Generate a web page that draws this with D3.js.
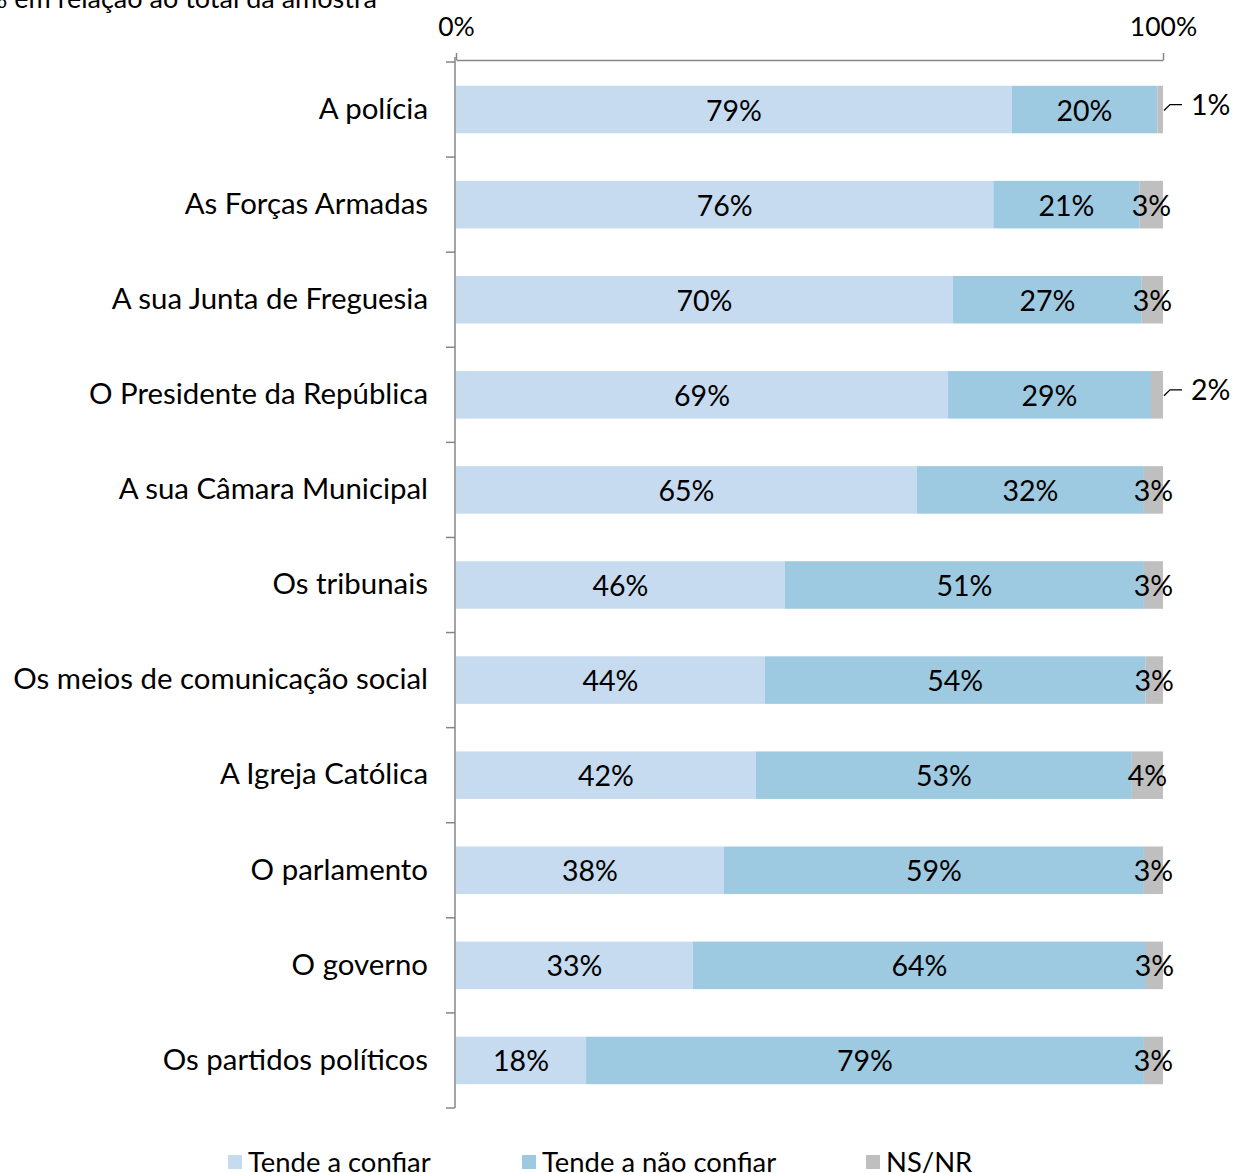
<!DOCTYPE html>
<html>
<head>
<meta charset="utf-8">
<script src="https://cdn.jsdelivr.net/npm/d3@7"></script>
<style>
  body { margin: 0; background: #fff; }
  svg { font-family: Lato, "Open Sans", sans-serif; }
</style>
</head>
<body>
<svg id="chart" width="1233" height="1173"></svg>
<script>
// categories (top to bottom)
const categories = [
  "A polícia", "As Forças Armadas", "A sua Junta de Freguesia",
  "O Presidente da República", "A sua Câmara Municipal", "Os tribunais",
  "Os meios de comunicação social", "A Igreja Católica", "O parlamento",
  "O governo", "Os partidos políticos"
];
// series values (% of sample)
const confiar    = [78.6, 76.0, 70.3, 69.6, 65.2, 46.5, 43.7, 42.4, 37.9, 33.5, 18.4];
const naoConfiar = [20.6, 20.7, 26.7, 28.7, 32.1, 50.8, 53.8, 53.2, 59.4, 64.1, 78.9];
const nsnr       = [0.8, 3.3, 3.0, 1.7, 2.7, 2.7, 2.5, 4.4, 2.7, 2.4, 2.7];
// printed labels
const confiarLab    = ["79%", "76%", "70%", "69%", "65%", "46%", "44%", "42%", "38%", "33%", "18%"];
const naoConfiarLab = ["20%", "21%", "27%", "29%", "32%", "51%", "54%", "53%", "59%", "64%", "79%"];
const nsnrLab       = ["1%", "3%", "3%", "2%", "3%", "3%", "3%", "4%", "3%", "3%", "3%"];
const seriesNames = ["Tende a confiar", "Tende a não confiar", "NS/NR"];
const colors = ["#c6dbef", "#9ecae1", "#bfbfbf"];
const xTicks = [0, 100];

const svg = d3.select("#chart");
const margin = { left: 456, right: 70, top: 62, bottom: 65 };

const x = d3.scaleLinear().domain([0, 100]).range([margin.left, 1163]);
const y = d3.scaleBand().domain(categories).range([margin.top, 1108]).paddingInner(0.5).paddingOuter(0.25);

// rows for stacking
const rows = categories.map((c, i) => ({
  cat: c, s0: confiar[i], s1: naoConfiar[i], s2: nsnr[i],
  l0: confiarLab[i], l1: naoConfiarLab[i], l2: nsnrLab[i]
}));
const stack = d3.stack().keys(["s0", "s1", "s2"]);
const layers = stack(rows);

// title (cut off at the left like the source)
svg.append("text")
  .attr("x", 377).attr("y", 8)
  .attr("text-anchor", "end")
  .attr("font-size", 27).attr("fill", "#000")
  .text("% em relação ao total da amostra");

// bars
const g = svg.append("g");
layers.forEach((layer, k) => {
  g.selectAll(null).data(layer).enter().append("rect")
    .attr("x", d => x(d[0]))
    .attr("width", d => x(d[1]) - x(d[0]))
    .attr("y", d => y(d.data.cat))
    .attr("height", y.bandwidth())
    .attr("fill", colors[k]);
});

// value labels
const lblKeys = ["l0", "l1", "l2"];
layers.forEach((layer, k) => {
  layer.forEach(d => {
    const small = k === 2 && d.data.s2 < 2;
    const cy = y(d.data.cat) + y.bandwidth() / 2;
    if (small) {
      const x0 = x(d[1]) + 1;
      g.append("path")
        .attr("d", `M${x0},${cy + 1} L${x0 + 6},${cy - 5} L${x0 + 18},${cy - 5}`)
        .attr("fill", "none").attr("stroke", "#000").attr("stroke-width", 1.3);
      g.append("text")
        .attr("x", x0 + 27).attr("y", cy - 5)
        .attr("dy", "0.35em")
        .attr("font-size", 28.5)
        .text(d.data[lblKeys[k]]);
    } else {
      g.append("text")
        .attr("x", (x(d[0]) + x(d[1])) / 2)
        .attr("y", cy + 1).attr("dy", "0.35em")
        .attr("text-anchor", "middle")
        .attr("font-size", 28.5)
        .text(d.data[lblKeys[k]]);
    }
  });
});

// top axis
const topAxis = svg.append("g")
  .attr("transform", `translate(0,${margin.top - 2})`)
  .call(d3.axisTop(x).tickValues(xTicks).tickFormat(d => d + "%").tickSize(7).tickSizeOuter(0));
topAxis.select(".domain").attr("stroke", "#868686").attr("stroke-width", 1.5);
topAxis.selectAll(".tick line").attr("stroke", "#868686").attr("stroke-width", 1.5);
topAxis.selectAll(".tick text").attr("font-size", 26.5).attr("font-family", "Lato, sans-serif")
  .attr("fill", "#000").attr("dy", "-0.25em").attr("y", -17);

// left axis with ticks between categories
const step = (1108 - margin.top) / categories.length;
const leftAxis = svg.append("g");
leftAxis.append("line")
  .attr("x1", margin.left - 1).attr("x2", margin.left - 1)
  .attr("y1", margin.top - 5).attr("y2", 1108)
  .attr("stroke", "#868686").attr("stroke-width", 1.5);
leftAxis.selectAll(null).data(d3.range(categories.length + 1)).enter().append("line")
  .attr("x1", margin.left - 10).attr("x2", margin.left - 1)
  .attr("y1", i => margin.top + i * step).attr("y2", i => margin.top + i * step)
  .attr("stroke", "#868686").attr("stroke-width", 1.5);

// category labels
svg.append("g").selectAll("text").data(categories).enter().append("text")
  .attr("x", 428)
  .attr("y", d => y(d) + y.bandwidth() / 2 - 1)
  .attr("dy", "0.35em")
  .attr("text-anchor", "end")
  .attr("font-size", 29.4)
  .text(d => d);

// legend
const legX = [228, 522, 866];
const leg = svg.append("g");
seriesNames.forEach((n, i) => {
  leg.append("rect").attr("x", legX[i]).attr("y", 1155).attr("width", 14).attr("height", 14).attr("fill", colors[i]);
  leg.append("text").attr("x", legX[i] + 20).attr("y", 1162).attr("dy", "0.35em")
    .attr("font-size", 27.4).text(n);
});
</script>
</body>
</html>
